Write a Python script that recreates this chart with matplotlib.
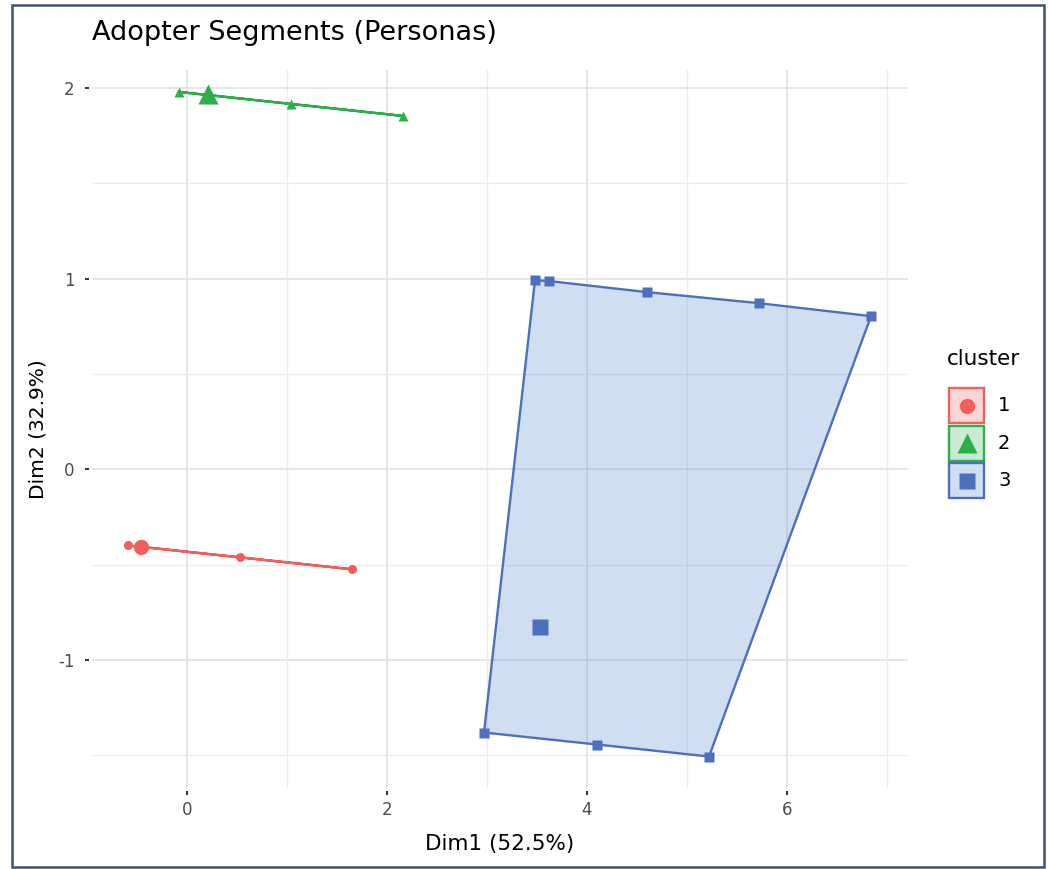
import matplotlib
matplotlib.use("Agg")
import matplotlib.pyplot as plt
from matplotlib.patches import Rectangle
from matplotlib.lines import Line2D

plt.rcParams['font.family'] = ['DejaVu Sans']
plt.rcParams['axes.unicode_minus'] = False

# ---- data ----
clusters = ["1", "2", "3"]
c1_x = [-0.59, 0.53, 1.65]
c1_y = [-0.40, -0.462, -0.525]
c2_x = [-0.08, 1.04, 2.16]
c2_y = [1.979, 1.916, 1.853]
# cluster 3 points in hull (boundary) order
c3_x = [2.97, 3.48, 3.62, 4.60, 5.72, 6.84, 5.22, 4.10]
c3_y = [-1.381, 0.992, 0.987, 0.929, 0.871, 0.803, -1.507, -1.444]
center_x = [-0.46, 0.21, 3.53]
center_y = [-0.41, 1.968, -0.829]

x_ticks = [0, 2, 4, 6]
y_ticks = [-1, 0, 1, 2]
title = "Adopter Segments (Personas)"
x_label = "Dim1 (52.5%)"
y_label = "Dim2 (32.9%)"
legend_title = "cluster"

colors = ['#F25F5A', '#2DAE48', '#4D6FBE']
fill_colors = ['#F25F5A', '#2DAE48', '#437FC7']
markers = ['o', '^', 's']

W, H = 1048, 869
fig = plt.figure(figsize=(W / 100, H / 100), dpi=100)
fig.patch.set_facecolor('white')


def fx(px):
    return px / W


def fy(py):
    return 1 - py / H


L, R, T, B = 92, 908, 70, 788
ax = fig.add_axes([fx(L), fy(B), (R - L) / W, (B - T) / H])
ax.set_xlim(-0.95, 7.21)
ax.set_ylim(-1.672, 2.094)

for s in ax.spines.values():
    s.set_visible(False)
ax.spines['bottom'].set_position(('outward', 2.5))
ax.spines['left'].set_position(('outward', 2.5))

ax.set_xticks(x_ticks)
ax.set_yticks(y_ticks)
ax.set_xticks([1, 3, 5, 7], minor=True)
ax.set_yticks([-1.5, -0.5, 0.5, 1.5], minor=True)
ax.grid(True, which='major', color='#E4E4E4', lw=1.3, zorder=0)
ax.grid(True, which='minor', color='#ECECEC', lw=1.0, zorder=0)
ax.tick_params(which='major', length=3, width=1.4, color='#333333',
               labelsize=12, labelcolor='#4D4D4D', pad=4)
ax.tick_params(which='minor', length=0)
ax.tick_params(axis='y', pad=7)
ax.set_axisbelow(True)

xs = [c1_x, c2_x, c3_x]
ys = [c1_y, c2_y, c3_y]
small_ms = [6.5, 7.5, 6.8]
big_ms = [11, 14.5, 11.5]
for i in range(3):
    ax.fill(xs[i], ys[i], facecolor=fill_colors[i], alpha=0.25, edgecolor='none', zorder=2)
    ax.fill(xs[i], ys[i], facecolor='none', edgecolor=colors[i], lw=1.7, zorder=3)
    ax.plot(xs[i], ys[i], ls='', marker=markers[i], ms=small_ms[i], color=colors[i],
            mec='none', zorder=4)
    ax.plot([center_x[i]], [center_y[i]], ls='', marker=markers[i], ms=big_ms[i],
            color=colors[i], mec='none', zorder=5)

ax.set_xlabel(x_label, fontsize=15.5, color='black', labelpad=11)
ax.set_ylabel(y_label, fontsize=14.5, color='black', labelpad=8)

fig.text(fx(L), fy(33), title, fontsize=19.5, ha='left', va='center', color='black')

# ---- legend (drawn as keys in figure space) ----
fig.text(fx(947), fy(359), legend_title, fontsize=15.5, ha='left', va='center')
key_x0, key_w = 948, 37
key_top, key_h = 387, 37.5
for i, lab in enumerate(clusters):
    y0 = key_top + i * key_h
    fig.add_artist(Rectangle((fx(key_x0 + 1), fy(y0 + key_h - 1)), (key_w - 2) / W,
                             (key_h - 2) / H, transform=fig.transFigure,
                             facecolor=fill_colors[i], alpha=0.25, edgecolor='none'))
    fig.add_artist(Rectangle((fx(key_x0 + 1), fy(y0 + key_h - 1)), (key_w - 2) / W,
                             (key_h - 2) / H, transform=fig.transFigure,
                             facecolor='none', edgecolor=colors[i], lw=1.7))
    fig.add_artist(Line2D([fx(key_x0 + key_w / 2)], [fy(y0 + key_h / 2)],
                          transform=fig.transFigure, ls='', marker=markers[i],
                          ms=[11, 15, 11][i], color=colors[i], mec='none'))
    fig.text(fx(998), fy(y0 + key_h / 2), lab, fontsize=14, ha='left', va='center')

fig.add_artist(Rectangle((fx(12), fy(867)), (1044 - 12) / W, (867 - 5) / H,
                         transform=fig.transFigure, fill=False,
                         edgecolor='#40516E', lw=1.8))

fig.savefig('out.png', dpi=100)
